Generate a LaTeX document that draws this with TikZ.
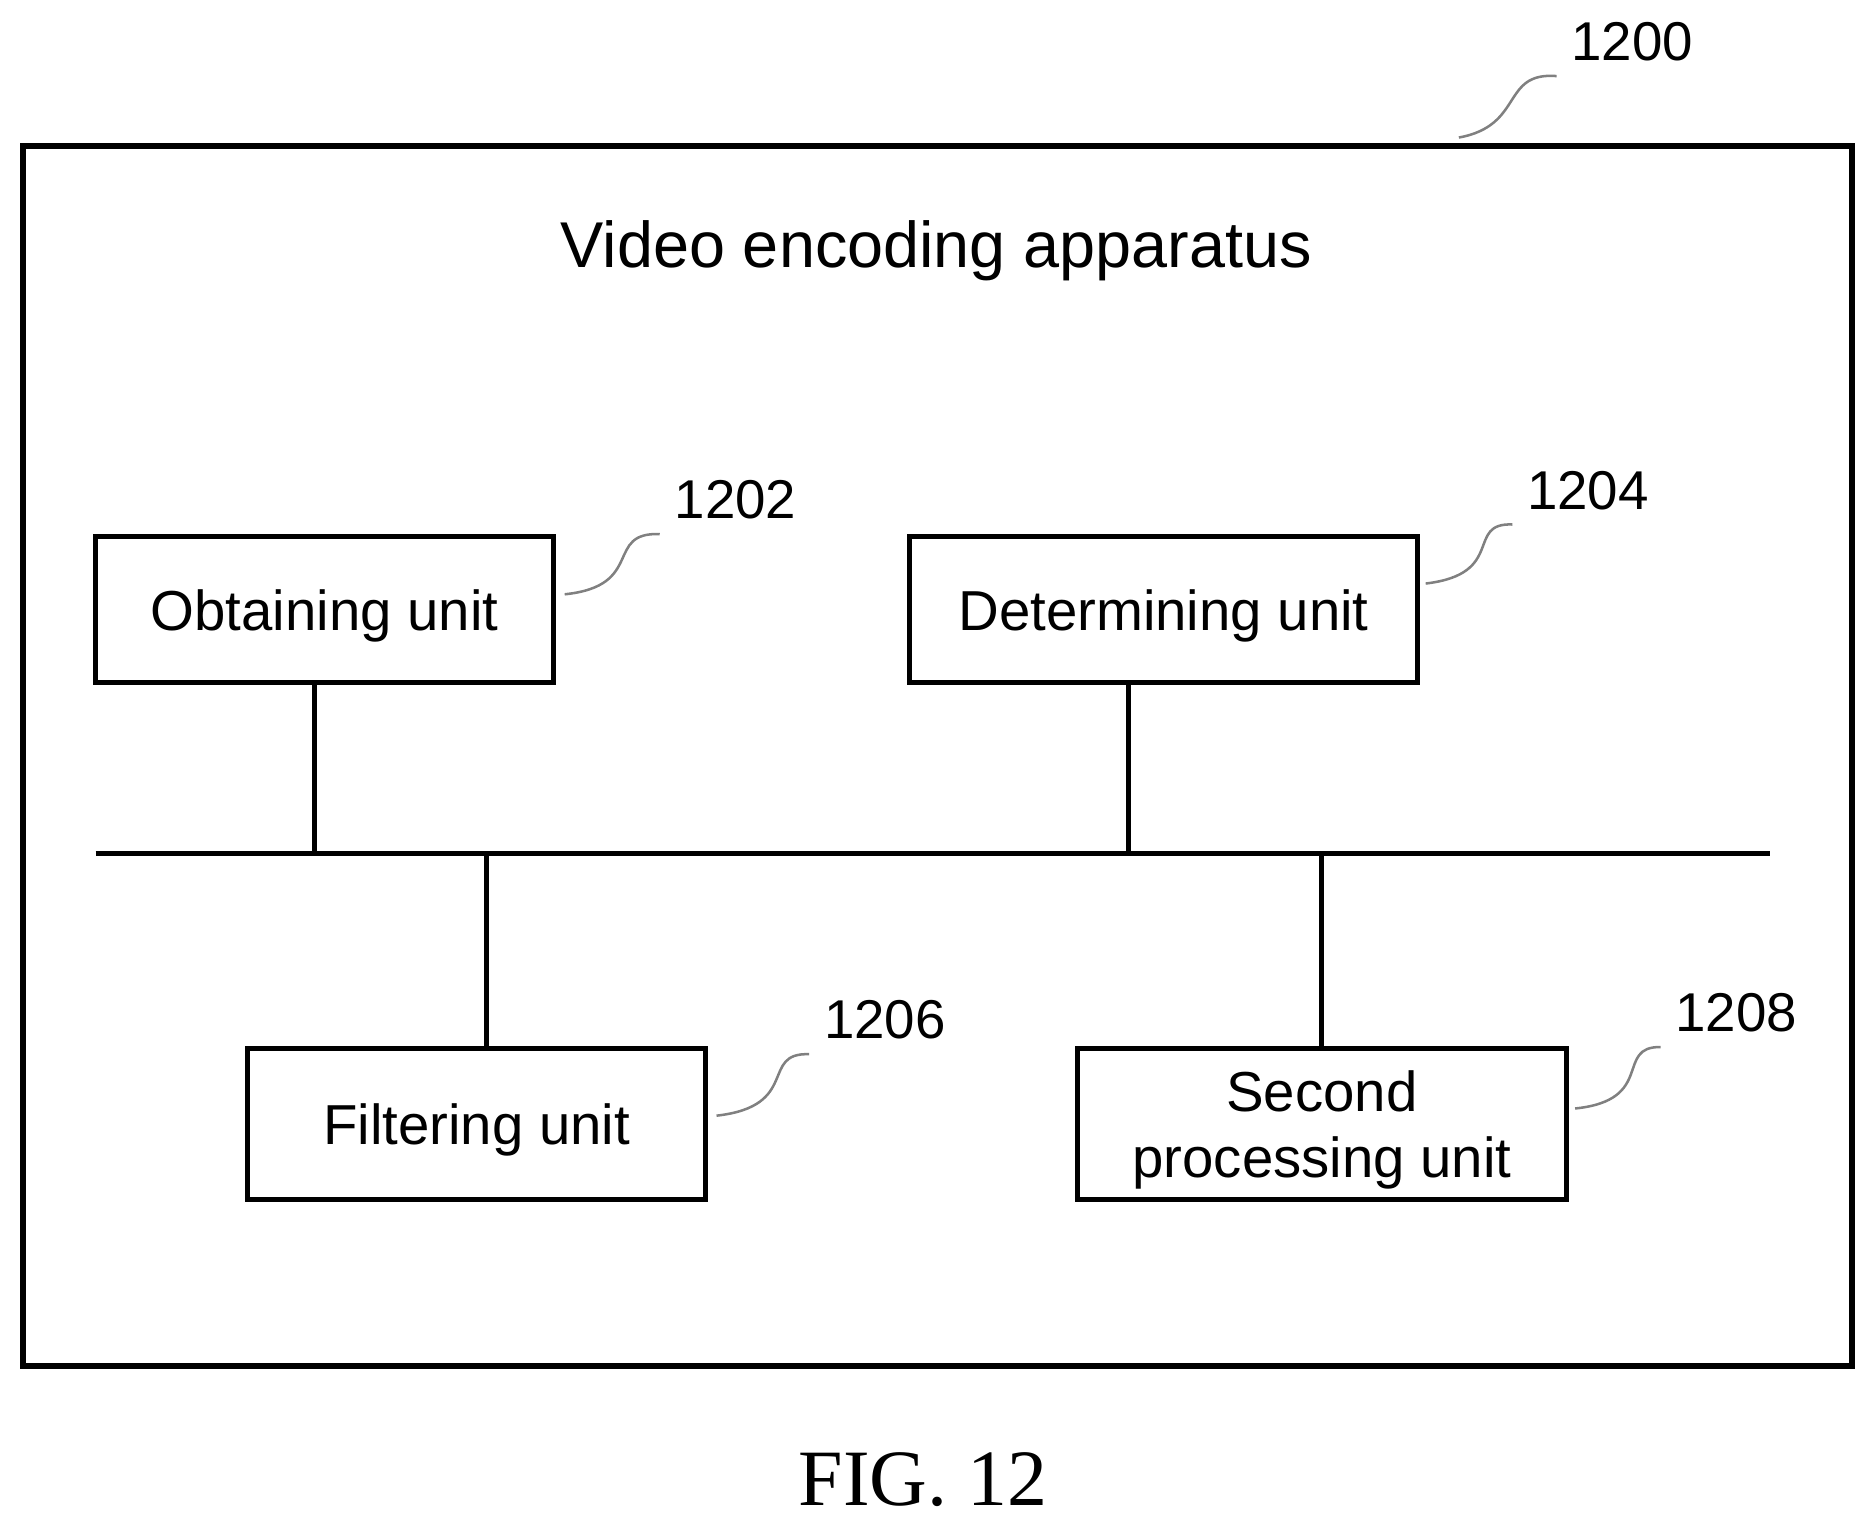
\documentclass[tikz,border=0pt]{standalone}
\usepackage{fontspec}
\setmainfont{Liberation Serif}
\newfontfamily\labelfont{Liberation Sans}
\begin{document}
\begin{tikzpicture}[x=0.01cm,y=-0.01cm,
    unit/.style={draw,line width=1.2pt,font=\labelfont\fontsize{13.4}{15.5}\selectfont,align=center,inner sep=0pt,text depth=-0.05cm},
    refnum/.style={font=\labelfont\fontsize{13}{15}\selectfont},
    leader/.style={draw=gray,line width=0.6pt}]
    \useasboundingbox (0,0) rectangle (1568,1275);

    \draw[line width=1.4pt] (19,122) rectangle (1549,1142);
    \node[font=\labelfont\fontsize{15.4}{18}\selectfont] (title) at (783,210) {Video encoding apparatus};
    \node[refnum] (n1200) at (1365,35) {1200};
    \draw[leader] (1220,115) .. controls (1275,105) and (1255,60) .. (n1200.south west);

    % units
    \node[unit,minimum width=3.83cm,minimum height=1.22cm] (obt) at (271.5,510) {Obtaining unit};
    \node[unit,minimum width=4.24cm,minimum height=1.22cm] (det) at (973,510) {Determining unit};
    \node[unit,minimum width=3.83cm,minimum height=1.26cm] (fil) at (398.5,940) {Filtering unit};
    \node[unit,minimum width=4.09cm,minimum height=1.26cm] (sec) at (1105.5,940) {Second\\processing unit};

    % bus
    \coordinate (busL) at (80,714);
    \coordinate (busR) at (1480,714);
    \draw[line width=1.2pt] (busL) -- (busR);
    \draw[line width=1.2pt] ([xshift=-0.085cm]obt.south) -- ([xshift=-0.085cm]obt.south |- busL);
    \draw[line width=1.2pt] ([xshift=-0.29cm]det.south) -- ([xshift=-0.29cm]det.south |- busL);
    \draw[line width=1.2pt] ([xshift=0.085cm]fil.north) -- ([xshift=0.085cm]fil.north |- busL);
    \draw[line width=1.2pt] (sec.north) -- (sec.north |- busL);

    % reference numerals
    \node[refnum] (n1202) at (615,418) {1202};
    \node[refnum] (n1204) at (1328,410) {1204};
    \node[refnum] (n1206) at (740,853) {1206};
    \node[refnum] (n1208) at (1452,847) {1208};
    \draw[leader] ([xshift=0.07cm,yshift=0.13cm]obt.east) .. controls (540,490) and (505,445) .. (n1202.south west);
    \draw[leader] ([xshift=0.05cm,yshift=0.22cm]det.east) .. controls (1260,480) and (1225,437) .. (n1204.south west);
    \draw[leader] ([xshift=0.07cm,yshift=0.07cm]fil.east) .. controls (670,925) and (635,880) .. (n1206.south west);
    \draw[leader] ([xshift=0.05cm,yshift=0.13cm]sec.east) .. controls (1385,920) and (1350,875) .. (n1208.south west);

    \node[font=\fontsize{19}{22}\selectfont] (fig) at (772,1237) {FIG. 12};
\end{tikzpicture}
\end{document}
